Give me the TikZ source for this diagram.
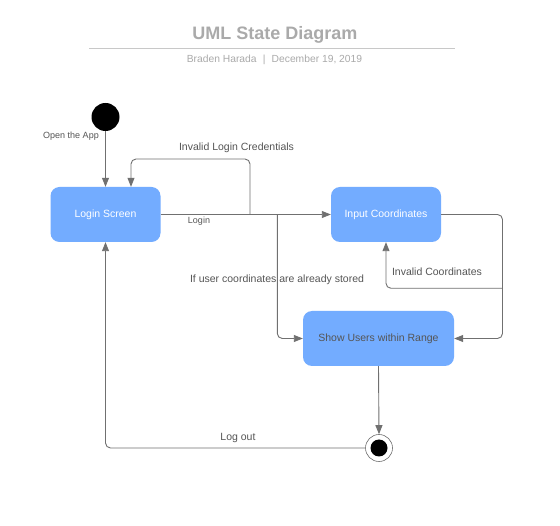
\documentclass[tikz,border=0pt]{standalone}
\usepackage{fontspec}
\setmainfont{Liberation Sans}
\usetikzlibrary{arrows.meta}
\definecolor{boxblue}{RGB}{115,172,255}
\definecolor{edgegray}{RGB}{112,112,112}
\definecolor{lblgray}{RGB}{85,85,85}
\definecolor{titlegray}{RGB}{170,170,170}
\definecolor{rulegray}{RGB}{200,200,200}
\tikzset{
  statebox/.style={draw=none, fill=boxblue, rounded corners=9pt, minimum height=55pt, inner sep=0pt, text=white, font=\fontsize{10.5}{12}\selectfont},
  edge/.style={draw=edgegray, line width=0.9pt, rounded corners=5pt, -{Triangle[length=9pt,width=7pt]}},
  lbl/.style={text=lblgray, font=\fontsize{10.5}{12}\selectfont, inner sep=0pt},
  smalllbl/.style={text=lblgray, font=\fontsize{9}{10}\selectfont, inner sep=0pt},
}
\begin{document}
\begin{tikzpicture}[x=1pt,y=-1pt]
\useasboundingbox (0,0) rectangle (560,526);
\fill[white] (0,0) rectangle (560,526);
% title
\node[text=titlegray, font=\fontsize{18}{20}\selectfont\bfseries] (title) at (275,35) {UML State Diagram};
\draw[rulegray, line width=1.3pt] (89,48.5) -- (455,48.5);
\node[text=titlegray, font=\fontsize{10.3}{12}\selectfont] (sub) at (274.5,60) {Braden Harada\hspace{0.6em}|\hspace{0.6em}December 19, 2019};
% states
\node[statebox, minimum width=110pt] (login) at (105.5,214.5) {Login Screen};
\node[statebox, minimum width=110pt] (input) at (386,214.5) {Input Coordinates};
\node[statebox, minimum width=151pt, text=lblgray] (show) at (378.5,338.5) {Show Users within Range};
\node[circle, fill=black, minimum size=28pt, inner sep=0pt] (start) at (105.5,117) {};
\node[circle, draw=edgegray, line width=0.6pt, fill=white, minimum size=27pt, inner sep=0pt] (end) at (379,448) {};
\node[circle, fill=black, minimum size=17pt, inner sep=0pt] (endin) at (end) {};
% coordinates
\coordinate (b1) at (250,214.5);
\coordinate (il) at (131,159);
\coordinate (b2) at (277.3,214.5);
\coordinate (rc) at (502.5,338.5);
\coordinate (ic) at (502.5,288.3);
% edges
\draw[edge] (start) -- (login);
\draw[edge] (login.east) -- (input.west);
\draw[edge] (b1) |- (il) -- (il |- login.north);
\draw[edge] (b2) |- (show.west);
\draw[edge] (input.east) -| (rc) -- (show.east);
\draw[edge] (ic) -| (input.south);
\draw[edge] (show.south) -- (end.north);
\draw[edge] (end.west) -| (login.south);
% labels
\node[smalllbl] (l1) at (71,136) {Open the App};
\node[lbl] (l2) at (236.5,148) {Invalid Login Credentials};
\node[smalllbl] (l3) at (199,221) {Login};
\node[lbl] (l4) at (277,280) {If user coordinates are already stored};
\node[lbl] (l5) at (437,271.5) {Invalid Coordinates};
\node[lbl] (l6) at (238,437.5) {Log out};
\end{tikzpicture}
\end{document}
